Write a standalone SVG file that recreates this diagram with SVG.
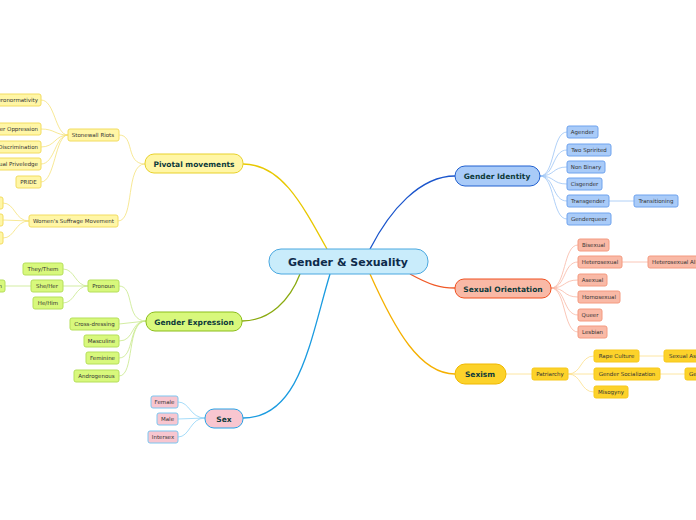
<svg xmlns="http://www.w3.org/2000/svg" width="696" height="520" viewBox="0 0 696 520">
<style>
text{font-family:"DejaVu Sans",Verdana,sans-serif;text-anchor:middle;dominant-baseline:central}
.s{font-size:5.5px;fill:#333}
.m{font-size:7.5px;font-weight:bold;fill:#0d3a3a}
.c{fill:none;stroke-width:0.8}
.y{stroke:#f5e27a}.yb{fill:#fff6a6;stroke:#f2dc60}
.g{stroke:#c8e88a}.gb{fill:#d8f87c;stroke:#b5df5a}
.b{stroke:#9cc4f5}.bb{fill:#a9cbf8;stroke:#6fa3ee}
.o{stroke:#f9b8a5}.ob{fill:#f9b9a6;stroke:#f49a80}
.x{stroke:#fde08a}.xb{fill:#fcd22a;stroke:#f7c81a}
.p{stroke:#8fd3f7}.pb{fill:#f8c6d0;stroke:#7cc6f0}
</style>
<rect width="696" height="520" fill="#fff"/>
<g id="connectors">
<path d="M327 249 C300 200,280 164,243 164" fill="none" stroke="#e8c800" stroke-width="1.3"/>
<path d="M300 274 C290 300,270 321,242 321" fill="none" stroke="#8aaa10" stroke-width="1.3"/>
<path d="M330 274 C310 340,300 418,243 418" fill="none" stroke="#1a9be0" stroke-width="1.3"/>
<path d="M370 249 C390 210,420 176,455 176" fill="none" stroke="#1a55cc" stroke-width="1.3"/>
<path d="M410 274 C430 285,440 288,455 288" fill="none" stroke="#f05a28" stroke-width="1.3"/>
<path d="M370 274 C395 330,420 374,455 374" fill="none" stroke="#f5b000" stroke-width="1.3"/>
<g class="c y">
<path d="M145 164 C125 164,135 135,119 135"/>
<path d="M145 164 C125 164,135 221,118 221"/>
<path d="M68 135 C55 135,55 100,41 100"/>
<path d="M68 135 C55 135,55 129,41 129"/>
<path d="M68 135 C55 135,55 147,41 147"/>
<path d="M68 135 C55 135,55 164,41 164"/>
<path d="M68 135 C55 135,55 182,41 182"/>
<path d="M29 221 C15 221,15 203,3 203"/>
<path d="M29 221 L3 220"/>
<path d="M29 221 C15 221,15 238,3 238"/>
</g>
<g class="c g">
<path d="M146 321 C125 321,135 286,119 286"/>
<path d="M146 321 L119 324"/>
<path d="M146 321 C130 321,135 341,119 341"/>
<path d="M146 321 C128 321,135 358,119 358"/>
<path d="M146 321 C126 321,135 376,119 376"/>
<path d="M88 286 C75 286,75 269,63 269"/>
<path d="M88 286 L63 286"/>
<path d="M88 286 C75 286,75 303,63 303"/>
<path d="M31 286 L5 286"/>
</g>
<g class="c p">
<path d="M205 418 C190 418,190 402,178 402"/>
<path d="M205 418 L178 419"/>
<path d="M205 418 C190 418,190 437,178 437"/>
</g>
<g class="c b">
<path d="M540 176 C555 176,552 132,567 132"/>
<path d="M540 176 C555 176,552 150,567 150"/>
<path d="M540 176 C555 176,552 167,567 167"/>
<path d="M540 176 C555 176,552 184,567 184"/>
<path d="M540 176 C555 176,552 201,567 201"/>
<path d="M540 176 C555 176,552 219,567 219"/>
<path d="M609 201 L634 201"/>
</g>
<g class="c o">
<path d="M551 288 C566 288,563 245,578 245"/>
<path d="M551 288 C566 288,563 262,578 262"/>
<path d="M551 288 C566 288,563 280,578 280"/>
<path d="M551 288 C566 288,563 297,578 297"/>
<path d="M551 288 C566 288,563 315,578 315"/>
<path d="M551 288 C566 288,563 332,578 332"/>
<path d="M622 262 L648 262"/>
</g>
<g class="c x">
<path d="M506 374 L532 374"/>
<path d="M568 374 C582 374,580 356,594 356"/>
<path d="M568 374 L594 374"/>
<path d="M568 374 C582 374,580 392,594 392"/>
<path d="M639 356 L664 356"/>
<path d="M660 374 L685 374"/>
</g>
</g>
<g id="center"><rect x="269" y="249" width="159" height="25" rx="12" fill="#c9ecfb" stroke="#4aa8e0"/><text x="348" y="262" font-size="11" font-weight="bold" fill="#0d2a4a">Gender &amp; Sexuality</text></g>
<g id="pivotal"><rect x="145" y="154" width="98" height="19" rx="9" fill="#fff6a6" stroke="#e8d12a"/><text class="m" x="194" y="164">Pivotal movements</text></g>
<g id="expression"><rect x="146" y="312" width="96" height="19" rx="9" fill="#d8f87c" stroke="#8bbd1a"/><text class="m" x="194" y="322">Gender Expression</text></g>
<g id="sex"><rect x="205" y="409" width="38" height="19" rx="9" fill="#f8c6d0" stroke="#29a3e6"/><text class="m" x="224" y="419">Sex</text></g>
<g id="identity"><rect x="455" y="166" width="85" height="20" rx="10" fill="#a9cbf8" stroke="#2060d0"/><text class="m" x="497" y="176">Gender Identity</text></g>
<g id="orientation"><rect x="455" y="279" width="96" height="19" rx="9" fill="#f9b9a6" stroke="#f05020"/><text class="m" x="503" y="289">Sexual Orientation</text></g>
<g id="sexism"><rect x="455" y="364" width="51" height="20" rx="10" fill="#fcd22a" stroke="#f0b800"/><text class="m" x="480" y="374" fill="#111">Sexism</text></g>
<g id="yellow-leaves">
<g id="stonewall"><rect class="yb" x="68" y="129" width="51" height="12" rx="2"/><text class="s" x="93" y="135">Stonewall Riots</text></g>
<g id="hetero"><rect class="yb" x="-30" y="94" width="71" height="12" rx="2"/><text class="s" x="38" y="100" style="text-anchor:end">Heteronormativity</text></g>
<g id="oppr"><rect class="yb" x="-30" y="123" width="71" height="12" rx="2"/><text class="s" x="38" y="129" style="text-anchor:end">Gender Oppression</text></g>
<g id="discr"><rect class="yb" x="-30" y="141" width="71" height="12" rx="2"/><text class="s" x="38" y="147" style="text-anchor:end">Discrimination</text></g>
<g id="priv"><rect class="yb" x="-30" y="158" width="71" height="12" rx="2"/><text class="s" x="38" y="164" style="text-anchor:end">Sexual Priveledge</text></g>
<g id="pride"><rect class="yb" x="16" y="176" width="25" height="12" rx="2"/><text class="s" x="28.5" y="182">PRIDE</text></g>
<g id="suffrage"><rect class="yb" x="29" y="215" width="89" height="12" rx="2"/><text class="s" x="73.5" y="221">Women's Suffrage Movement</text></g>
<rect class="yb" x="-20" y="197" width="23" height="12" rx="2"/>
<rect class="yb" x="-20" y="214" width="23" height="12" rx="2"/>
<rect class="yb" x="-20" y="232" width="23" height="12" rx="2"/>
</g>
<g id="green-leaves">
<g id="pronoun"><rect class="gb" x="88" y="280" width="31" height="12" rx="2"/><text class="s" x="103.5" y="286">Pronoun</text></g>
<g id="they"><rect class="gb" x="23" y="263" width="40" height="12" rx="2"/><text class="s" x="43" y="269">They/Them</text></g>
<g id="she"><rect class="gb" x="31" y="280" width="32" height="12" rx="2"/><text class="s" x="47" y="286">She/Her</text></g>
<g id="he"><rect class="gb" x="33" y="297" width="30" height="12" rx="2"/><text class="s" x="48" y="303">He/Him</text></g>
<rect class="gb" x="-20" y="280" width="25" height="12" rx="2"/><text class="s" x="2" y="286" style="text-anchor:end">n</text>
<g id="cross"><rect class="gb" x="70" y="318" width="49" height="12" rx="2"/><text class="s" x="94.5" y="324">Cross-dressing</text></g>
<g id="masc"><rect class="gb" x="84" y="335" width="35" height="12" rx="2"/><text class="s" x="101.5" y="341">Masculine</text></g>
<g id="fem"><rect class="gb" x="86" y="352" width="33" height="12" rx="2"/><text class="s" x="102.5" y="358">Feminine</text></g>
<g id="andro"><rect class="gb" x="74" y="370" width="45" height="12" rx="2"/><text class="s" x="96.5" y="376">Androgenous</text></g>
</g>
<g id="sex-leaves">
<g id="female"><rect class="pb" x="151" y="396" width="27" height="12" rx="2"/><text class="s" x="164.5" y="402">Female</text></g>
<g id="male"><rect class="pb" x="157" y="413" width="21" height="12" rx="2"/><text class="s" x="167.5" y="419">Male</text></g>
<g id="intersex"><rect class="pb" x="148" y="431" width="30" height="12" rx="2"/><text class="s" x="163" y="437">Intersex</text></g>
</g>
<g id="blue-leaves">
<g id="agender"><rect class="bb" x="567" y="126" width="31" height="12" rx="2"/><text class="s" x="582.5" y="132">Agender</text></g>
<g id="two"><rect class="bb" x="567" y="144" width="44" height="12" rx="2"/><text class="s" x="589" y="150">Two Spririted</text></g>
<g id="nonbin"><rect class="bb" x="567" y="161" width="38" height="12" rx="2"/><text class="s" x="586" y="167">Non Binary</text></g>
<g id="cis"><rect class="bb" x="567" y="178" width="35" height="12" rx="2"/><text class="s" x="584.5" y="184">Cisgender</text></g>
<g id="trans"><rect class="bb" x="567" y="195" width="42" height="12" rx="2"/><text class="s" x="588" y="201">Transgender</text></g>
<g id="transitioning"><rect class="bb" x="634" y="195" width="44" height="12" rx="2"/><text class="s" x="656" y="201">Transitioning</text></g>
<g id="gq"><rect class="bb" x="567" y="213" width="44" height="12" rx="2"/><text class="s" x="589" y="219">Genderqueer</text></g>
</g>
<g id="orange-leaves">
<g id="bi"><rect class="ob" x="578" y="239" width="31" height="12" rx="2"/><text class="s" x="593.5" y="245">Bisexual</text></g>
<g id="het"><rect class="ob" x="578" y="256" width="44" height="12" rx="2"/><text class="s" x="600" y="262">Heterosexual</text></g>
<g id="hetal"><rect class="ob" x="648" y="256" width="70" height="12" rx="2"/><text class="s" x="652" y="262" style="text-anchor:start">Heterosexual Allies</text></g>
<g id="ase"><rect class="ob" x="578" y="274" width="29" height="12" rx="2"/><text class="s" x="592.5" y="280">Asexual</text></g>
<g id="homo"><rect class="ob" x="578" y="291" width="42" height="12" rx="2"/><text class="s" x="599" y="297">Homosexual</text></g>
<g id="queer"><rect class="ob" x="578" y="309" width="24" height="12" rx="2"/><text class="s" x="590" y="315">Queer</text></g>
<g id="lesbian"><rect class="ob" x="578" y="326" width="29" height="12" rx="2"/><text class="s" x="592.5" y="332">Lesbian</text></g>
</g>
<g id="gold-leaves">
<g id="patriarchy"><rect class="xb" x="532" y="368" width="36" height="12" rx="2"/><text class="s" x="550" y="374">Patriarchy</text></g>
<g id="rape"><rect class="xb" x="594" y="350" width="45" height="12" rx="2"/><text class="s" x="616.5" y="356">Rape Culture</text></g>
<g id="gsoc"><rect class="xb" x="594" y="368" width="66" height="12" rx="2"/><text class="s" x="627" y="374">Gender Socialization</text></g>
<g id="miso"><rect class="xb" x="594" y="386" width="34" height="12" rx="2"/><text class="s" x="611" y="392">Misogyny</text></g>
<g id="sa"><rect class="xb" x="664" y="350" width="60" height="12" rx="2"/><text class="s" x="669" y="356" style="text-anchor:start">Sexual Assault</text></g>
<g id="ge"><rect class="xb" x="685" y="368" width="40" height="12" rx="2"/><text class="s" x="689" y="374" style="text-anchor:start">Gender</text></g>
</g>
</svg>
